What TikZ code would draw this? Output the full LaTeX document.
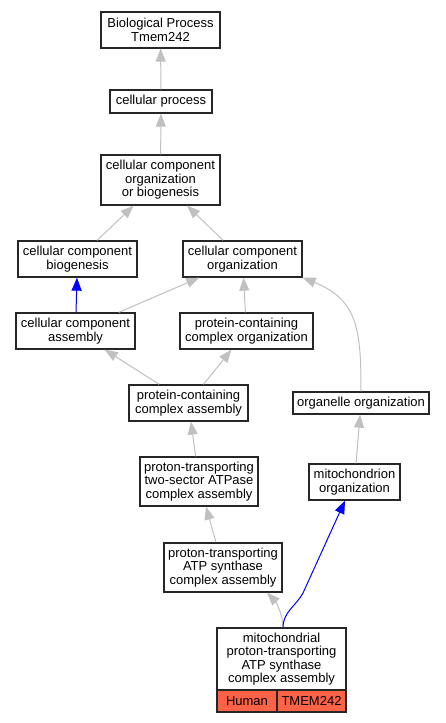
\documentclass[tikz,border=0pt]{standalone}
\usepackage{fontspec}
\setmainfont{Liberation Sans}
\usepackage{xcolor}
\usetikzlibrary{arrows.meta,positioning}

\definecolor{isagray}{RGB}{192,192,192}
\definecolor{tomato}{RGB}{255,99,71}

\tikzset{
    term/.style 2 args={draw=black!85, line width=1.3pt, fill=white, align=center,
        inner sep=0pt, minimum width=#1, minimum height=#2,
        font=\fontsize{13}{13.5}\selectfont},
    cell/.style 2 args={term={#1}{#2}, fill=tomato},
    isa/.style={draw=isagray, line width=1pt, -{Triangle[length=13pt,width=10pt]}},
    partof/.style={draw=blue, line width=1pt, -{Triangle[length=13pt,width=10pt]}}
}

\begin{document}
\begin{tikzpicture}[x=1pt,y=-1pt]
            \useasboundingbox (0,0) rectangle (445,723);

            % terms
            \node[term={119}{36}] (bp) at (160.5,30) {Biological Process\\Tmem242};
            \node[term={102}{23}] (cp) at (161,101.5) {cellular process};
            \node[term={119}{50}] (ccob) at (160.5,180) {cellular component\\organization\\or biogenesis};
            \node[term={119}{36}] (ccb) at (77.5,259) {cellular component\\biogenesis};
            \node[term={119}{36}] (cco) at (242.5,259) {cellular component\\organization};
            \node[term={119}{36}] (cca) at (75.5,331) {cellular component\\assembly};
            \node[term={133}{36}] (pcco) at (246.5,331) {protein-containing\\complex organization};
            \node[term={119}{36}] (pcca) at (188.5,403) {protein-containing\\complex assembly};
            \node[term={136}{22}] (oo) at (361,403) {organelle organization};
            \node[term={118}{49}] (ts) at (199,481.5) {proton-transporting\\two-sector ATPase\\complex assembly};
            \node[term={91}{36}] (mo) at (354.5,482) {mitochondrion\\organization};
            \node[term={118}{49}] (atp) at (223,567.5) {proton-transporting\\ATP synthase\\complex assembly};
            \node[term={129}{62}] (mt) at (281.5,659) {mitochondrial\\proton-transporting\\ATP synthase\\complex assembly};
            \node[cell={60}{22}] (human) at (247,701) {Human};
            \node[cell={69}{22}] (gene) at (311.5,701) {TMEM242};

            % is_a edges
            \draw[isa] (cp) -- (bp);
            \draw[isa] (ccob) -- (cp);
            \draw[isa] (ccb) -- (ccob);
            \draw[isa] (cco) -- (ccob);
            \draw[isa] (cca) -- (cco);
            \draw[isa] (pcco) -- (cco);
            \draw[isa] (oo.north) .. controls (361,330) and (358,300) .. (cco.south east);
            \draw[isa] (pcca) -- (cca);
            \draw[isa] (pcca) -- (pcco);
            \draw[isa] (ts) -- (pcca);
            \draw[isa] (mo) -- (oo);
            \draw[isa] (atp) -- (ts);
            \draw[isa] ([xshift=1.5pt]mt.north) .. controls (283,615) and (276,602) .. ([xshift=44pt]atp.south);

            % part_of edges
            \draw[partof] (cca) -- (ccb);
            \draw[partof] ([xshift=1.5pt]mt.north) .. controls (283,612) and (296,606) .. (303,593)
                -- ([xshift=-9.5pt]mo.south);
        \end{tikzpicture}
\end{document}
